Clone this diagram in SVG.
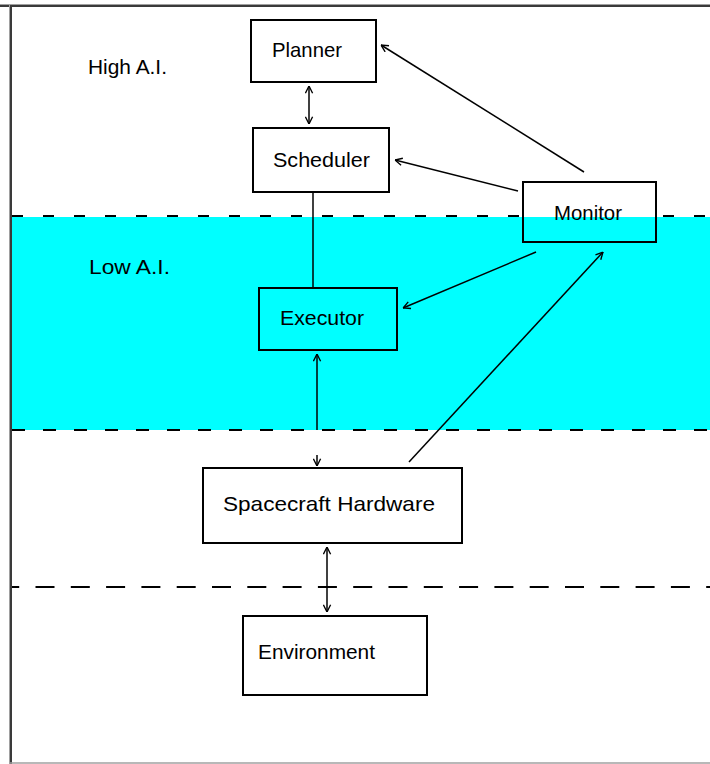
<svg xmlns="http://www.w3.org/2000/svg" width="710" height="764" viewBox="0 0 710 764">
<defs>
<style>
.box{fill:#fff;stroke:#000;stroke-width:2}
.lbl{font-family:"Liberation Sans",Arial,sans-serif;font-size:21px;fill:#000}
.cn{stroke:#000;stroke-width:1.5;fill:none}
.dash{stroke:#000;stroke-width:2;fill:none}
</style>
<marker id="ah" viewBox="0 0 10 10" refX="10" refY="5" markerWidth="9" markerHeight="9" markerUnits="userSpaceOnUse" orient="auto-start-reverse">
<path d="M2,1 L10,5 L2,9" fill="none" stroke="#000" stroke-width="1.5"/>
</marker>
</defs>
<rect x="0" y="0" width="710" height="764" fill="#fff"/>
<rect x="12" y="217" width="698" height="213" fill="#00ffff"/>
<g id="frame">
<line x1="0" y1="4.5" x2="710" y2="4.5" stroke="#a0a0a0" stroke-width="1"/>
<line x1="0" y1="6" x2="710" y2="6" stroke="#3a3a3a" stroke-width="2"/>
<line x1="9.5" y1="5" x2="9.5" y2="764" stroke="#a0a0a0" stroke-width="1"/>
<line x1="11" y1="5" x2="11" y2="764" stroke="#3a3a3a" stroke-width="2"/>
<line x1="10" y1="763" x2="710" y2="763" stroke="#a0a0a0" stroke-width="1.5"/>
</g>
<g id="layers">
<line class="dash" x1="12" y1="216" x2="710" y2="216" stroke-dasharray="11 20"/>
<line class="dash" x1="12" y1="430" x2="710" y2="430" stroke-dasharray="13 18"/>
<line class="dash" x1="12" y1="587" x2="710" y2="587" stroke-dasharray="19 16.3" stroke-dashoffset="11.8"/>
<text class="lbl" x="88" y="74" textLength="79" lengthAdjust="spacingAndGlyphs">High A.I.</text>
<text class="lbl" x="89" y="274" textLength="81" lengthAdjust="spacingAndGlyphs">Low A.I.</text>
</g>
<g id="connectors">
<line class="cn" x1="309" y1="86" x2="309" y2="124" marker-start="url(#ah)" marker-end="url(#ah)"/>
<line class="cn" x1="313" y1="193" x2="313" y2="287"/>
<line class="cn" x1="584" y1="172" x2="381" y2="45" marker-end="url(#ah)"/>
<line class="cn" x1="518" y1="191" x2="395" y2="160" marker-end="url(#ah)"/>
<line class="cn" x1="536" y1="252" x2="403" y2="308" marker-end="url(#ah)"/>
<line class="cn" x1="409" y1="462" x2="603" y2="252" marker-end="url(#ah)"/>
<line class="cn" x1="317" y1="430" x2="317" y2="354" marker-end="url(#ah)"/>
<line class="cn" x1="317" y1="455" x2="317" y2="466" marker-end="url(#ah)"/>
<line class="cn" x1="327" y1="547" x2="327" y2="612" marker-start="url(#ah)" marker-end="url(#ah)"/>
</g>
<g id="planner">
<rect class="box" x="251" y="20" width="125" height="62"/>
<text class="lbl" x="272" y="57" textLength="70" lengthAdjust="spacingAndGlyphs">Planner</text>
</g>
<g id="scheduler">
<rect class="box" x="253" y="128" width="136" height="64"/>
<text class="lbl" x="273" y="167" textLength="97" lengthAdjust="spacingAndGlyphs">Scheduler</text>
</g>
<g id="monitor">
<rect x="523" y="182" width="133" height="60" fill="#fff"/>
<rect x="523" y="217" width="133" height="25" fill="#00ffff"/>
<rect x="523" y="182" width="133" height="60" fill="none" stroke="#000" stroke-width="2"/>
<text class="lbl" x="554" y="220" textLength="68" lengthAdjust="spacingAndGlyphs">Monitor</text>
</g>
<g id="executor">
<rect x="259" y="288" width="138" height="62" fill="none" stroke="#000" stroke-width="2"/>
<text class="lbl" x="280" y="325" textLength="84" lengthAdjust="spacingAndGlyphs">Executor</text>
</g>
<g id="hardware">
<rect class="box" x="203" y="468" width="259" height="75"/>
<text class="lbl" x="223" y="511" textLength="212" lengthAdjust="spacingAndGlyphs">Spacecraft Hardware</text>
</g>
<g id="environment">
<rect class="box" x="243" y="616" width="184" height="79"/>
<text class="lbl" x="258" y="659" textLength="117" lengthAdjust="spacingAndGlyphs">Environment</text>
</g>
</svg>
